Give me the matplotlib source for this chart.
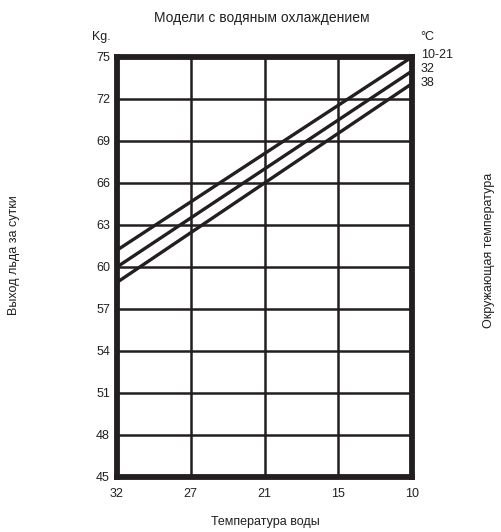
import matplotlib
matplotlib.use("Agg")
import matplotlib.pyplot as plt

plt.rcParams['font.family'] = ['Liberation Sans', 'DejaVu Sans']

# water temperature ticks (evenly spaced categories)
water_temp = ['32', '27', '21', '15', '10']
y_ticks = [45, 48, 51, 54, 57, 60, 63, 66, 69, 72, 75]

# ice output (kg/24h) at water temp 32 and 10, per ambient temperature
ambient = ['10-21', '32', '38']
start_vals = [61.2, 60.0, 58.9]
end_vals = [75.0, 74.0, 73.1]

ink = '#231f20'

fig = plt.figure(figsize=(5.01, 5.32), dpi=100)
ax = fig.add_axes([0.2335, 0.1034, 0.589, 0.7895])

for s, e in zip(start_vals, end_vals):
    ax.plot([0, len(water_temp) - 1], [s, e], color=ink, lw=2.4, solid_capstyle='butt', zorder=3)

ax.set_xlim(0, len(water_temp) - 1)
ax.set_ylim(45, 75)
ax.set_xticks(range(len(water_temp)))
ax.set_xticklabels(water_temp)
ax.set_yticks(y_ticks)
ax.tick_params(length=0, labelsize=9, colors=ink)
ax.tick_params(axis='x', pad=8)
ax.tick_params(axis='y', pad=5)
ax.grid(True, color=ink, lw=1.8)
for sp in ax.spines.values():
    sp.set_linewidth(4.2)
    sp.set_color(ink)

# line labels at the right edge
label_y = [55, 69, 83]
for name, py in zip(ambient, label_y):
    fig.text(421 / 501, 1 - py / 532, name, fontsize=9, color=ink, ha='left', va='center')

fig.text(92 / 501, 1 - 37 / 532, 'Kg.', fontsize=9, color=ink, ha='left', va='center')
fig.text(420 / 501, 1 - 37 / 532, '°C', fontsize=9, color=ink, ha='left', va='center')

fig.text(262 / 501, 1 - 18 / 532, 'Модели с водяным охлаждением', fontsize=10, color=ink, ha='center', va='center')
fig.text(265 / 501, 1 - 522 / 532, 'Температура воды', fontsize=9, color=ink, ha='center', va='center')
fig.text(14 / 501, 1 - 255 / 532, 'Выход льда за сутки', fontsize=9, color=ink, ha='center', va='center', rotation=90)
fig.text(489 / 501, 1 - 250 / 532, 'Окружающая температура', fontsize=9, color=ink, ha='center', va='center', rotation=90)

fig.savefig('out.png', dpi=100)
